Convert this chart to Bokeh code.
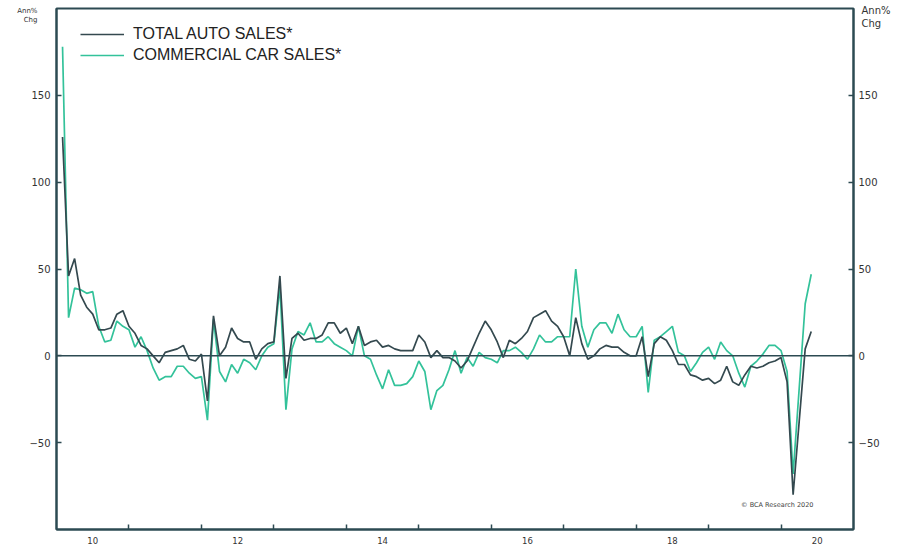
import pandas as pd
from bokeh.plotting import figure
from bokeh.models import Range1d, LinearAxis, FixedTicker, Span, Label, Legend, LegendItem, ColumnDataSource
from bokeh.embed import file_html
from bokeh.resources import INLINE

# ---------------- data ----------------
start_month = "2010-02"
total_auto_sales = [
    126, 46, 56, 35, 28, 24, 15, 15, 16, 24, 26,            # 2010 Feb-Dec
    17, 13, 6, 4, 0, -4, 2, 3, 4, 6, -2, -3,                 # 2011
    1, -26, 23, 0, 5, 16, 10, 8, 8, -2, 4, 7,                # 2012
    8, 46, -13, 10, 13, 9, 10, 10, 12, 19, 19, 13,           # 2013
    16, 7, 17, 6, 8, 9, 5, 6, 4, 3, 3, 3,                    # 2014
    12, 8, -1, 3, -1, -1, -3, -7, -3, 5, 13, 20,             # 2015
    15, 8, -1, 9, 7, 10, 14, 22, 24, 26, 20, 17,             # 2016
    11, 0, 22, 7, -2, 0, 4, 6, 5, 5, 2, 0,                   # 2017
    0, 11, -12, 7, 11, 9, 3, -5, -5, -11, -12, -14,          # 2018
    -13, -16, -14, -6, -15, -17, -11, -6, -7, -6, -4, -3,    # 2019
    -1, -15, -80, -38, 4, 14,                                # 2020 Jan-Jun
]
commercial_car_sales = [
    178, 22, 39, 38, 36, 37, 17, 8, 9, 20, 17,               # 2010 Feb-Dec
    15, 5, 11, 3, -7, -14, -12, -12, -6, -6, -10, -13,       # 2011
    -12, -37, 21, -9, -15, -5, -10, -2, -4, -8, 0, 5,        # 2012
    7, 40, -31, 4, 14, 12, 19, 8, 8, 11, 7, 5,               # 2013
    3, 0, 17, 0, -2, -11, -19, -8, -17, -17, -16, -12,       # 2014
    -3, -9, -31, -20, -17, -8, 3, -10, -1, -6, 2, -1,        # 2015
    -2, -4, 3, 3, 5, 2, -2, 4, 12, 8, 8, 11,                 # 2016
    11, 11, 50, 17, 5, 15, 19, 19, 13, 24, 15, 11,           # 2017
    11, 17, -21, 9, 11, 14, 17, 2, 0, -9, -4, 2,             # 2018
    5, -2, 8, 3, 0, -10, -18, -6, -3, 1, 6, 6,               # 2019
    3, -9, -68, -19, 30, 47,                                 # 2020 Jan-Jun
]
x_label_positions = [2010.5, 2012.5, 2014.5, 2016.5, 2018.5, 2020.5]
x_tick_labels = ["10", "12", "14", "16", "18", "20"]
year_boundaries = [2011, 2012, 2013, 2014, 2015, 2016, 2017, 2018, 2019, 2020]
y_ticks = [-50, 0, 50, 100, 150]
unit_label = "Ann%\nChg"

# ---------------- styling ----------------
DARK = "#34494f"
GREEN = "#33c29a"
AX = "#2c4a52"
TXT = "#333333"

dates = pd.period_range(start_month, periods=len(total_auto_sales), freq="M")
xs = [d.year + (d.month - 1) / 12 for d in dates]
src = ColumnDataSource(dict(x=xs, total=total_auto_sales, comm=commercial_car_sales))

p = figure(frame_width=797, frame_height=521,
           x_range=Range1d(2010, 2021), y_range=Range1d(-100, 200),
           output_backend="svg", toolbar_location=None,
           min_border_left=56, min_border_right=45, min_border_top=8, min_border_bottom=22)
p.xgrid.visible = False
p.ygrid.visible = False
p.outline_line_color = AX
p.outline_line_width = 2
p.outline_line_alpha = 1
p.background_fill_color = "white"
p.border_fill_color = "white"

# x axis
xa = p.xaxis[0]
xa.ticker = FixedTicker(ticks=x_label_positions, minor_ticks=year_boundaries)
xa.major_label_overrides = {pos: lbl for pos, lbl in zip(x_label_positions, x_tick_labels)}
xa.major_tick_in = 0
xa.major_tick_out = 0
xa.minor_tick_in = 5
xa.minor_tick_out = 0
xa.minor_tick_line_color = AX
xa.minor_tick_line_width = 1.5
xa.axis_line_color = AX
xa.axis_line_width = 2
xa.major_label_text_font = "DejaVu Sans"
xa.major_label_text_font_size = "8.5px"
xa.major_label_text_color = TXT
xa.major_label_standoff = 7

def style_y(ax, standoff):
    ax.ticker = FixedTicker(ticks=y_ticks)
    ax.major_tick_in = 5
    ax.major_tick_out = 0
    ax.minor_tick_in = 0
    ax.minor_tick_out = 0
    ax.major_tick_line_color = AX
    ax.major_tick_line_width = 1.5
    ax.axis_line_color = AX
    ax.axis_line_width = 2
    ax.major_label_text_font = "DejaVu Sans"
    ax.major_label_text_font_size = "10px"
    ax.major_label_text_color = TXT
    ax.major_label_standoff = standoff

style_y(p.yaxis[0], 6)
ry = LinearAxis()
style_y(ry, 5)
p.add_layout(ry, "right")

# unit captions ("Ann% Chg") as label-only axes outside the main ones
def unit_axis(pos, standoff, size):
    ax = LinearAxis(ticker=FixedTicker(ticks=[pos]), major_label_overrides={pos: unit_label})
    ax.axis_line_color = None
    ax.major_tick_line_color = None
    ax.minor_tick_line_color = None
    ax.major_tick_in = 0
    ax.major_tick_out = 0
    ax.major_label_standoff = standoff
    ax.major_label_text_font = "DejaVu Sans"
    ax.major_label_text_font_size = size
    ax.major_label_text_color = TXT
    return ax

p.add_layout(unit_axis(196, -11, "7px"), "left")
p.add_layout(unit_axis(195, -21, "10px"), "right")

p.add_layout(Span(location=0, dimension="width", line_color=AX, line_width=1.5))

r_comm = p.line("x", "comm", source=src, line_color=GREEN, line_width=1.7)
r_total = p.line("x", "total", source=src, line_color=DARK, line_width=1.7)

legend = Legend(items=[LegendItem(label="TOTAL AUTO SALES*", renderers=[r_total]),
                       LegendItem(label="COMMERCIAL CAR SALES*", renderers=[r_comm])],
                location=(24, 464.5), margin=0, padding=0, spacing=1,
                glyph_width=44, glyph_height=20, label_height=20, label_standoff=9,
                label_text_font="Liberation Sans", label_text_font_size="16px",
                label_text_color="#222222", border_line_alpha=0, background_fill_alpha=0)
p.add_layout(legend)

p.add_layout(Label(x=2021, y=-100, x_offset=-40, y_offset=25, text="© BCA Research 2020",
                   text_align="right", text_baseline="middle", text_font="DejaVu Sans",
                   text_font_size="6.5px", text_color="#444444"))

open("out.html", "w").write(file_html(p, INLINE))
